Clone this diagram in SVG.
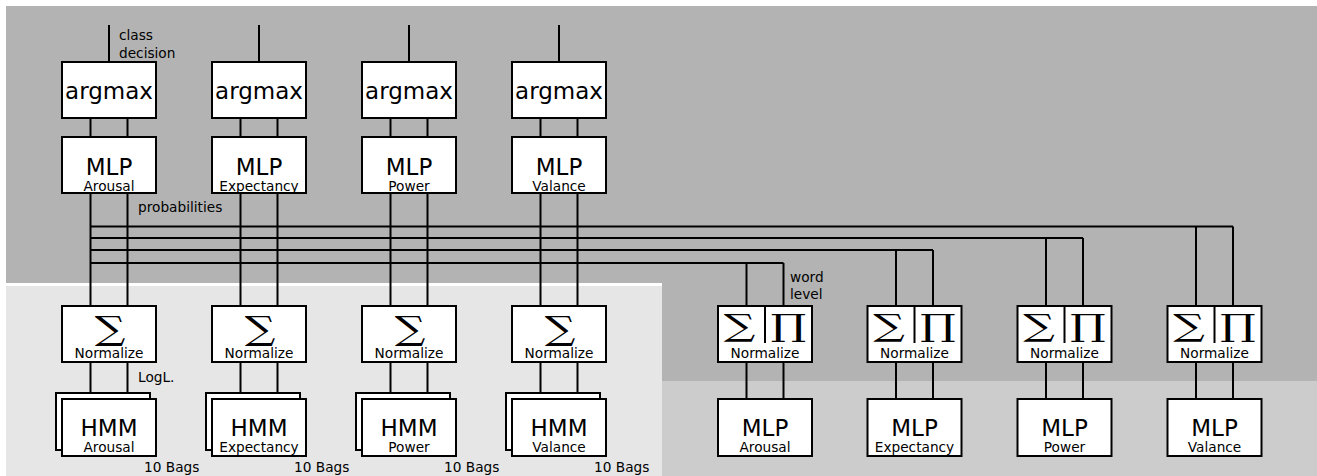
<svg xmlns="http://www.w3.org/2000/svg" width="1317" height="476" viewBox="0 0 1317 476">
  <style>
    .box { fill: #ffffff; stroke: #000000; stroke-width: 2; }
    .wire { fill: none; stroke: #000000; stroke-width: 2; }
    .big { font-family: "DejaVu Sans", sans-serif; font-size: 23px; text-anchor: middle; fill: #000; }
    .sub { font-family: "DejaVu Sans", sans-serif; font-size: 13.7px; text-anchor: middle; fill: #000; }
    .note { font-family: "DejaVu Sans", sans-serif; font-size: 13.7px; fill: #000; }
    .op { font-family: "DejaVu Serif", serif; font-size: 33px; text-anchor: middle; fill: #000; }
    .op2 { font-family: "DejaVu Serif", serif; font-size: 30.5px; text-anchor: middle; fill: #000; }
  </style>

  <!-- background regions -->
  <rect x="0" y="0" width="1317" height="476" fill="#ffffff"/>
  <rect x="6" y="6" width="1311" height="470" fill="#b3b3b3"/>
  <rect x="6" y="286" width="656" height="190" fill="#e6e6e6"/>
  <rect x="6" y="283" width="656" height="3" fill="#ffffff"/>
  <rect x="662" y="381" width="655" height="95" fill="#cccccc"/>

  <!-- connectors -->
  <g id="connectors" class="wire">
    <!-- outputs of argmax -->
    <path d="M109 25V62 M259 25V62 M409 25V62 M559 25V62"/>
    <!-- argmax to MLP -->
    <path d="M90.5 118V137 M127.5 118V137 M240.5 118V137 M277.5 118V137 M390.5 118V137 M427.5 118V137 M540.5 118V137 M577.5 118V137"/>
    <!-- MLP to sum -->
    <path d="M90.5 193V306 M127.5 193V306 M240.5 193V306 M277.5 193V306 M390.5 193V306 M427.5 193V306 M540.5 193V306 M577.5 193V306"/>
    <!-- sum to HMM -->
    <path d="M90.5 362V393 M127.5 362V393 M240.5 362V393 M277.5 362V393 M390.5 362V393 M427.5 362V393 M540.5 362V393 M577.5 362V393"/>
    <!-- probability bus to word level combiners -->
    <path d="M90.5 263H783.5 M746.5 263V306 M783.5 263V306"/>
    <path d="M90.5 250H933 M896 250V306 M933 250V306"/>
    <path d="M90.5 238H1083 M1046 238V306 M1083 238V306"/>
    <path d="M90.5 226.5H1233 M1196 226.5V306 M1233 226.5V306"/>
    <!-- word level combiners to MLP -->
    <path d="M746.5 362V399 M783.5 362V399 M896 362V399 M933 362V399 M1046 362V399 M1083 362V399 M1196 362V399 M1233 362V399"/>
  </g>

  <!-- column 1: Arousal -->
  <g id="argmax-arousal"><rect class="box" x="62" y="62" width="94" height="56"/><text class="big" x="109" y="99">argmax</text></g>
  <g id="mlp-arousal"><rect class="box" x="62" y="137" width="94" height="56"/><text class="big" x="109" y="175">MLP</text><text class="sub" x="109" y="191">Arousal</text></g>
  <g id="sum-arousal"><rect class="box" x="62" y="306" width="94" height="56"/><text class="op" transform="translate(110 340) scale(1.3 1)">∑</text><text class="sub" x="109" y="357.5">Normalize</text></g>
  <g id="hmm-arousal"><rect class="box" x="56" y="393" width="94" height="57"/><rect class="box" x="62" y="399" width="94" height="57"/><text class="big" x="109" y="436">HMM</text><text class="sub" x="109" y="452">Arousal</text></g>

  <!-- column 2: Expectancy -->
  <g id="argmax-expectancy"><rect class="box" x="212" y="62" width="94" height="56"/><text class="big" x="259" y="99">argmax</text></g>
  <g id="mlp-expectancy"><rect class="box" x="212" y="137" width="94" height="56"/><text class="big" x="259" y="175">MLP</text><text class="sub" x="259" y="191">Expectancy</text></g>
  <g id="sum-expectancy"><rect class="box" x="212" y="306" width="94" height="56"/><text class="op" transform="translate(260 340) scale(1.3 1)">∑</text><text class="sub" x="259" y="357.5">Normalize</text></g>
  <g id="hmm-expectancy"><rect class="box" x="206" y="393" width="94" height="57"/><rect class="box" x="212" y="399" width="94" height="57"/><text class="big" x="259" y="436">HMM</text><text class="sub" x="259" y="452">Expectancy</text></g>

  <!-- column 3: Power -->
  <g id="argmax-power"><rect class="box" x="362" y="62" width="94" height="56"/><text class="big" x="409" y="99">argmax</text></g>
  <g id="mlp-power"><rect class="box" x="362" y="137" width="94" height="56"/><text class="big" x="409" y="175">MLP</text><text class="sub" x="409" y="191">Power</text></g>
  <g id="sum-power"><rect class="box" x="362" y="306" width="94" height="56"/><text class="op" transform="translate(410 340) scale(1.3 1)">∑</text><text class="sub" x="409" y="357.5">Normalize</text></g>
  <g id="hmm-power"><rect class="box" x="356" y="393" width="94" height="57"/><rect class="box" x="362" y="399" width="94" height="57"/><text class="big" x="409" y="436">HMM</text><text class="sub" x="409" y="452">Power</text></g>

  <!-- column 4: Valance -->
  <g id="argmax-valance"><rect class="box" x="512" y="62" width="94" height="56"/><text class="big" x="559" y="99">argmax</text></g>
  <g id="mlp-valance"><rect class="box" x="512" y="137" width="94" height="56"/><text class="big" x="559" y="175">MLP</text><text class="sub" x="559" y="191">Valance</text></g>
  <g id="sum-valance"><rect class="box" x="512" y="306" width="94" height="56"/><text class="op" transform="translate(560 340) scale(1.3 1)">∑</text><text class="sub" x="559" y="357.5">Normalize</text></g>
  <g id="hmm-valance"><rect class="box" x="506" y="393" width="94" height="57"/><rect class="box" x="512" y="399" width="94" height="57"/><text class="big" x="559" y="436">HMM</text><text class="sub" x="559" y="452">Valance</text></g>

  <!-- word level combiners and MLPs -->
  <g id="sumprod-arousal"><rect class="box" x="718" y="306" width="94" height="56"/><path class="wire" d="M765 306V343"/><text class="op2" transform="translate(739.5 336) scale(1.45 1)">∑</text><text class="op2" transform="translate(788 336) scale(1.45 1)">∏</text><text class="sub" x="765" y="357.5">Normalize</text></g>
  <g id="wmlp-arousal"><rect class="box" x="718" y="399" width="94" height="57"/><text class="big" x="765" y="436">MLP</text><text class="sub" x="765" y="452">Arousal</text></g>

  <g id="sumprod-expectancy"><rect class="box" x="867.5" y="306" width="94" height="56"/><path class="wire" d="M914.5 306V343"/><text class="op2" transform="translate(889 336) scale(1.45 1)">∑</text><text class="op2" transform="translate(937.5 336) scale(1.45 1)">∏</text><text class="sub" x="914.5" y="357.5">Normalize</text></g>
  <g id="wmlp-expectancy"><rect class="box" x="867.5" y="399" width="94" height="57"/><text class="big" x="914.5" y="436">MLP</text><text class="sub" x="914.5" y="452">Expectancy</text></g>

  <g id="sumprod-power"><rect class="box" x="1017.5" y="306" width="94" height="56"/><path class="wire" d="M1064.5 306V343"/><text class="op2" transform="translate(1039 336) scale(1.45 1)">∑</text><text class="op2" transform="translate(1087.5 336) scale(1.45 1)">∏</text><text class="sub" x="1064.5" y="357.5">Normalize</text></g>
  <g id="wmlp-power"><rect class="box" x="1017.5" y="399" width="94" height="57"/><text class="big" x="1064.5" y="436">MLP</text><text class="sub" x="1064.5" y="452">Power</text></g>

  <g id="sumprod-valance"><rect class="box" x="1167.5" y="306" width="94" height="56"/><path class="wire" d="M1214.5 306V343"/><text class="op2" transform="translate(1189 336) scale(1.45 1)">∑</text><text class="op2" transform="translate(1237.5 336) scale(1.45 1)">∏</text><text class="sub" x="1214.5" y="357.5">Normalize</text></g>
  <g id="wmlp-valance"><rect class="box" x="1167.5" y="399" width="94" height="57"/><text class="big" x="1214.5" y="436">MLP</text><text class="sub" x="1214.5" y="452">Valance</text></g>

  <!-- annotations -->
  <g id="labels">
    <text class="note" x="119" y="40">class</text>
    <text class="note" x="119" y="57.5">decision</text>
    <text class="note" x="138" y="212">probabilities</text>
    <text class="note" x="138" y="382">LogL.</text>
    <text class="note" x="790" y="282">word</text>
    <text class="note" x="790" y="299">level</text>
    <text class="note" x="144" y="472">10 Bags</text>
    <text class="note" x="294" y="472">10 Bags</text>
    <text class="note" x="444" y="472">10 Bags</text>
    <text class="note" x="594" y="472">10 Bags</text>
  </g>
</svg>
